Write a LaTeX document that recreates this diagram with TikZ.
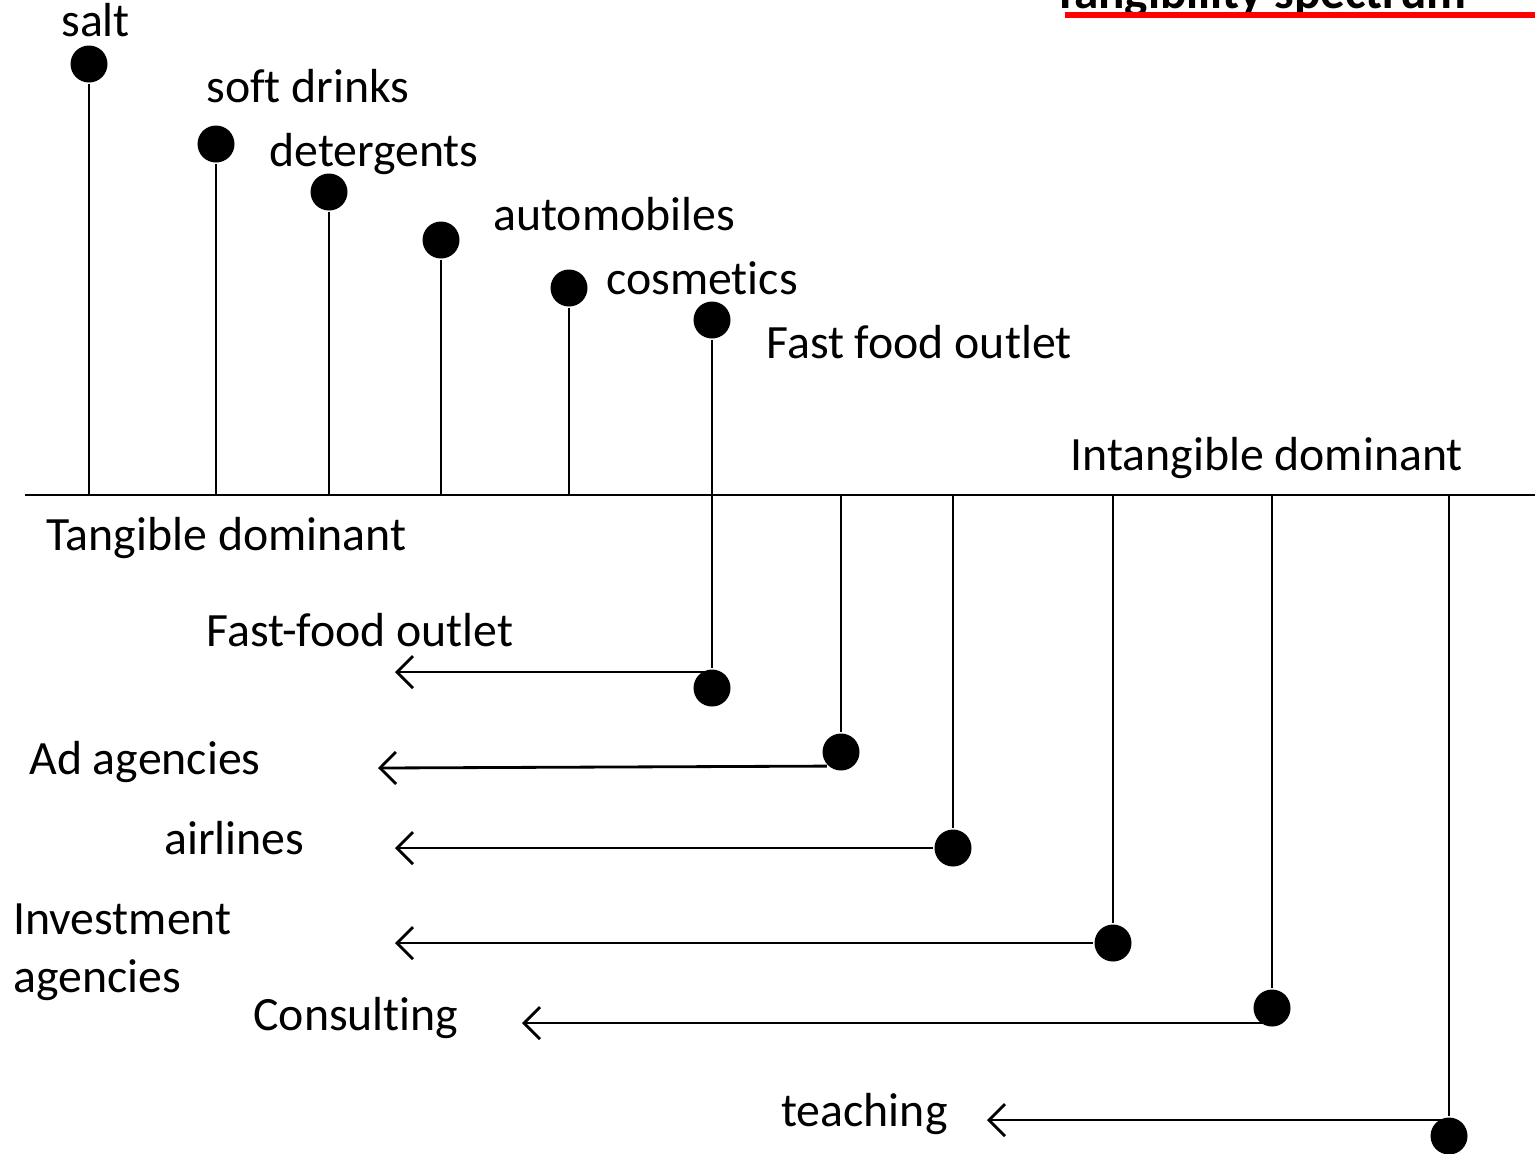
\documentclass[tikz,border=0pt]{standalone}
\usepackage{fontspec}
\setmainfont{Carlito}[Ligatures=NoCommon]
\usetikzlibrary{arrows.meta}

\tikzset{
  lbl/.style={anchor=base west, inner sep=0pt, font=\fontsize{13.6}{16}\selectfont},
  dot/.style={circle, fill, inner sep=0pt, minimum size=3.7mm},
  arr/.style={-{Straight Barb[length=1.6mm, width=3.2mm, line width=0.8pt]}},
}

\begin{document}
\begin{tikzpicture}[x=0.1mm, y=-0.1mm, line width=0.8pt]
  \useasboundingbox (0,0) rectangle (1535,1153);

  % title, cut at the top of the page
  \node[anchor=base east, inner sep=0pt, font=\fontsize{14}{16}\selectfont\bfseries]
    (title) at (1468,8) {Tangibility spectrum};
  \draw[red, line width=0.6mm] (1065,15) coordinate (ulL) -- (1535,15) coordinate (ulR);

  % the axis
  \coordinate (axisL) at (25,495);
  \coordinate (axisR) at (1535,495);
  \draw (axisL) -- (axisR);
  \node[lbl] (tangible) at (45,550) {Tangible dominant};
  \node[lbl] (intangible) at (1069,470) {Intangible dominant};

  % tangible side
  \node[dot] (salt) at (89,64) {};
  \node[dot] (soft) at (216,144) {};
  \node[dot] (deter) at (329,192) {};
  \node[dot] (auto) at (441,240) {};
  \node[dot] (cosm) at (569,288) {};
  \node[dot] (food) at (712,320) {};
  \foreach \d in {salt,soft,deter,auto,cosm}
    \draw (\d) -- (\d |- axisL);

  \node[lbl] (saltL) at (60,36) {salt};
  \node[lbl] (softL) at (205,102) {soft drinks};
  \node[lbl] (deterL) at (268,166) {detergents};
  \node[lbl] (autoL) at (492,230) {automobiles};
  \node[lbl] (cosmL) at (605,294) {cosmetics};
  \node[lbl] (foodL) at (765,358) {Fast food outlet};

  % intangible side
  \node[dot] (ffdot) at (712,688) {};
  \node[dot] (addot) at (841,752) {};
  \node[dot] (airdot) at (953,848) {};
  \node[dot] (invdot) at (1113,943) {};
  \node[dot] (condot) at (1272,1008) {};
  \node[dot] (teadot) at (1449,1136) {};
  \draw (food) -- (ffdot);
  \foreach \d in {addot,airdot,invdot,condot,teadot}
    \draw (\d |- axisL) -- (\d);

  \coordinate (fftip) at (395,672);
  \coordinate (adtip) at (378,768);
  \coordinate (airtip) at (395,848);
  \coordinate (invtip) at (395,943);
  \coordinate (contip) at (522,1023);
  \coordinate (teatip) at (987,1120);
  \draw[arr] (fftip -| ffdot) -- (fftip);
  \draw[arr] (addot.south west) -- (adtip);
  \draw[arr] (airdot) -- (airtip);
  \draw[arr] (invdot) -- (invtip);
  \draw[arr] (contip -| condot) -- (contip);
  \draw[arr] (teatip -| teadot) -- (teatip);

  \node[lbl] (ffL) at (205,646) {Fast-food outlet};
  \node[lbl] (adL) at (28,774) {Ad agencies};
  \node[lbl] (airL) at (163,854) {airlines};
  \node[lbl] (invL) at (12,934) {Investment};
  \node[lbl] (invL2) at (12,992) {agencies};
  \node[lbl] (conL) at (252,1030) {Consulting};
  \node[lbl] (teaL) at (780,1126) {teaching};
\end{tikzpicture}
\end{document}
